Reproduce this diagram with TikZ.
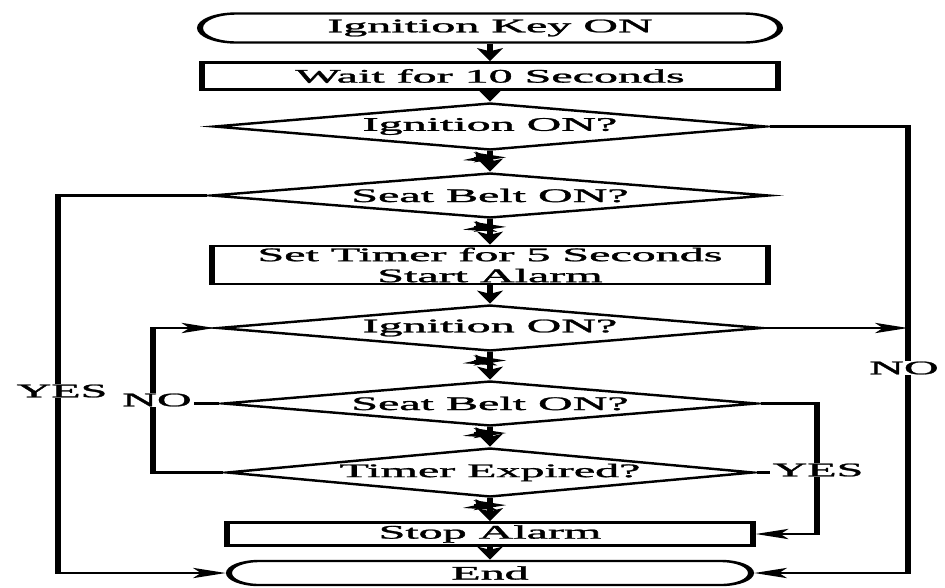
\documentclass[tikz,border=0pt]{standalone}
\usepackage{fontspec}
\setmainfont{Liberation Serif}[FakeBold=1.2]
\usetikzlibrary{shapes.geometric,shapes.misc,arrows.meta,decorations.markings}
\begin{document}
\begin{tikzpicture}[x=1pt,y=-1pt,
  every node/.style={font=\fontsize{19.2}{21}\selectfont},
  box/.style={draw, line width=2.4pt, rectangle, inner sep=0pt, align=center},
  term/.style={draw, line width=2.4pt, rounded rectangle, inner sep=0pt},
  decision/.style={draw, line width=2.4pt, diamond, aspect=4.7, inner sep=0pt},
  line/.style={line width=2.4pt},
  flow/.style={line width=2.4pt, -{Stealth[length=13pt,width=10pt,inset=3pt]}},
  ticked/.style={flow, postaction={decorate},
    decoration={markings, mark=at position 0.3 with
      {\draw[line width=1.5pt] (0,-6.5pt) -- (0,6.5pt);
       \draw[line width=1.2pt] (1.5pt,-3pt) -- (5pt,3pt);}}},
  lbl/.style={fill=white, inner sep=1pt}]
\useasboundingbox[fill=white] (0,0) rectangle (945,587);
% the chart is laid out on a narrow canvas that is stretched sideways
\begin{scope}[x=0.4pt, transform canvas={xscale=2.5}]
  \node[term, minimum width=232pt, minimum height=29pt] (start) at (490,28) {Ignition Key ON};
  \node[box, minimum width=230pt, minimum height=27pt] (wait) at (490,76) {Wait for 10 Seconds};
  \node[decision, minimum width=221.2pt, minimum height=47pt] (d1) at (490,126.5) {Ignition ON?};
  \node[decision, minimum width=223.6pt, minimum height=45pt] (d2) at (490,195.5) {Seat Belt ON?};
  \node[box, minimum width=222.4pt, minimum height=38pt] (timer) at (490,265) {Set Timer for 5 Seconds\\Start Alarm};
  \node[decision, minimum width=218pt, minimum height=46pt] (d3) at (490,328) {Ignition ON?};
  \node[decision, minimum width=214pt, minimum height=45pt] (d4) at (490,403.5) {Seat Belt ON?};
  \node[decision, minimum width=211.2pt, minimum height=49pt] (d5) at (490,472.5) {Timer Expired?};
  \node[box, minimum width=210pt, minimum height=23pt] (stop) at (490,534) {Stop Alarm};
  \node[term, minimum width=208.8pt, minimum height=24pt] (end) at (490,573) {End};

  \coordinate (lcol) at (58,0);
  \coordinate (ncol) at (153,0);
  \coordinate (ycol) at (817,0);
  \coordinate (rcol) at (908,0);

  % main sequence
  \draw[flow] (start.south) -- (wait.north);
  \draw[flow] (wait.south) -- (d1.north);
  \draw[ticked] (d1.south) -- (d2.north);
  \draw[ticked] (d2.south) -- (timer.north);
  \draw[flow] (timer.south) -- (d3.north);
  \draw[ticked] (d3.south) -- (d4.north);
  \draw[ticked] (d4.south) -- (d5.north);
  \draw[ticked] (d5.south) -- (stop.north);
  \draw[flow] (stop.south) -- (end.north);

  % seat belt fastened at once
  \draw[flow] (d2.west) -- (d2.west -| lcol) -- (end.west -| lcol) -- (end.west);
  % ignition switched off
  \draw[flow] (d1.east) -- (d1.east -| rcol) -- (end.east -| rcol) -- (end.east);
  \draw[flow] (d3.east) -- (d3.east -| rcol);
  % waiting loop
  \draw[line] (d4.west) -- (d4.west -| ncol);
  \draw[flow] (d5.west) -- (d5.west -| ncol) -- (d3.west -| ncol) -- (d3.west);
  % belt fastened or timer run out
  \draw[line] (d5.east) -- (d5.east -| ycol);
  \draw[flow] (d4.east) -- (d4.east -| ycol) -- (stop.east -| ycol) -- (stop.east);

  \node[lbl] (yesL) at (62,391) {YES};
  \node[lbl] (noL) at (157,400) {NO};
  \node[lbl] (noR) at (904,368) {NO};
  \node[lbl] (yesR) at (818,470) {YES};
\end{scope}
\end{tikzpicture}
\end{document}
